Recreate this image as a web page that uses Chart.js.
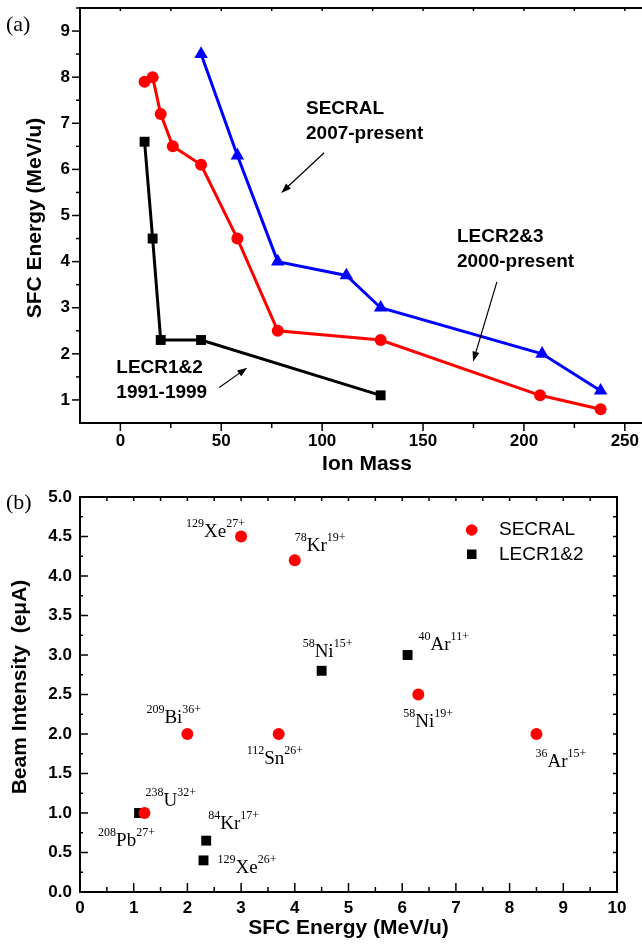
<!DOCTYPE html>
<html>
<head>
<meta charset="utf-8">
<script src="https://cdn.jsdelivr.net/npm/chart.js@4/dist/chart.umd.min.js"></script>
<style>
  html, body { margin: 0; padding: 0; background: #fff; overflow: hidden; }
  #wrap { position: relative; width: 642px; height: 944px; overflow: hidden; }
  #boxA { position: absolute; left: 0; top: 0; width: 660px; height: 470px; }
  #boxB { position: absolute; left: 0; top: 470px; width: 642px; height: 474px; }
</style>
</head>
<body>
<div id="wrap">
  <div id="boxA"><canvas id="graficoEnergia" width="660" height="470"></canvas></div>
  <div id="boxB"><canvas id="graficoCorrente" width="642" height="474"></canvas></div>
</div>
<script>
// (a) energia SFC x massa do ion
const lecr12Mass = [12, 16, 20, 40, 129];
const lecr12Energy = [6.6, 4.5, 2.3, 2.3, 1.1];
const lecr23Mass = [12, 16, 20, 26, 40, 58, 78, 129, 208, 238];
const lecr23Energy = [7.9, 8.0, 7.2, 6.5, 6.1, 4.5, 2.5, 2.3, 1.1, 0.8];
const secralMass = [40, 58, 78, 112, 129, 209, 238];
const secralEnergy = [8.5, 6.3, 4.0, 3.7, 3.0, 2.0, 1.2];

const massTicks = [0, 50, 100, 150, 200, 250];
const energyTicks = [1, 2, 3, 4, 5, 6, 7, 8, 9];

// (b) corrente do feixe x energia SFC
const secralBeamEnergy = [3.0, 4.0, 6.3, 8.5, 2.0, 3.7, 1.2];
const secralBeamCurrent = [4.5, 4.2, 2.5, 2.0, 2.0, 2.0, 1.0];
const secralBeamIons = [
  ["129", "Xe", "27+"], ["78", "Kr", "19+"], ["58", "Ni", "19+"], ["36", "Ar", "15+"],
  ["209", "Bi", "36+"], ["112", "Sn", "26+"], ["238", "U", "32+"]
];
const lecrBeamEnergy = [1.1, 2.35, 2.3, 4.5, 6.1];
const lecrBeamCurrent = [1.0, 0.65, 0.4, 2.8, 3.0];
const lecrBeamIons = [
  ["208", "Pb", "27+"], ["84", "Kr", "17+"], ["129", "Xe", "26+"], ["58", "Ni", "15+"], ["40", "Ar", "11+"]
];

const sfcTicks = ["0", "1", "2", "3", "4", "5", "6", "7", "8", "9", "10"];
const currentTicks = ["0.0", "0.5", "1.0", "1.5", "2.0", "2.5", "3.0", "3.5", "4.0", "4.5", "5.0"];

// deslocamento (px) de cada rotulo em relacao ao seu ponto
const secralLabelShift = [[-55, 0], [0, -9], [-15, 32], [-1, 33], [-41, -11], [-32, 30], [1, -7]];
const lecrLabelShift = [[-41, 33], [2, -12], [14, 13], [-19, -14], [11, -5]];

const SANS = '"Liberation Sans", Arial, sans-serif';
const SERIF = '"Liberation Serif", "Times New Roman", serif';

function pares(xs, ys) {
  return xs.map((x, i) => ({ x: x, y: ys[i] }));
}

function linha(ctx, x1, y1, x2, y2) {
  ctx.beginPath();
  ctx.moveTo(x1, y1);
  ctx.lineTo(x2, y2);
  ctx.stroke();
}

function passos(min, max, step) {
  const out = [];
  for (let v = min; v <= max + 1e-9; v += step) out.push(Math.round(v * 1000) / 1000);
  return out;
}

function seta(ctx, x1, y1, x2, y2) {
  const ang = Math.atan2(y2 - y1, x2 - x1);
  ctx.lineWidth = 1.2;
  linha(ctx, x1, y1, x2 - Math.cos(ang) * 6, y2 - Math.sin(ang) * 6);
  ctx.beginPath();
  ctx.moveTo(x2, y2);
  ctx.lineTo(x2 - Math.cos(ang) * 10 + Math.sin(ang) * 3.5, y2 - Math.sin(ang) * 10 - Math.cos(ang) * 3.5);
  ctx.lineTo(x2 - Math.cos(ang) * 10 - Math.sin(ang) * 3.5, y2 - Math.sin(ang) * 10 + Math.cos(ang) * 3.5);
  ctx.closePath();
  ctx.fill();
}

// eixos, marcas e textos do grafico (a)
const molduraEnergia = {
  id: "molduraEnergia",
  afterDraw(chart) {
    const ctx = chart.ctx;
    const { left, right, top, bottom } = chart.chartArea;
    const sx = chart.scales.x, sy = chart.scales.y;
    ctx.save();
    ctx.strokeStyle = "#000";
    ctx.fillStyle = "#000";
    ctx.lineWidth = 2;
    ctx.lineCap = "square";
    linha(ctx, left, top, right, top);
    linha(ctx, left, top, left, bottom);
    linha(ctx, left, bottom, right, bottom);

    ctx.lineCap = "butt";
    ctx.lineWidth = 1.5;
    passos(0, 250, 25).forEach((v) => {
      const px = sx.getPixelForValue(v);
      const major = v % 50 === 0;
      linha(ctx, px, bottom, px, bottom + (major ? 8 : 5));
      linha(ctx, px, top, px, top + 3);
    });
    passos(1, 9.5, 0.5).forEach((v) => {
      const py = sy.getPixelForValue(v);
      const major = Number.isInteger(v);
      linha(ctx, left - (major ? 8 : 4), py, left, py);
    });

    ctx.font = "bold 17px " + SANS;
    ctx.textAlign = "center";
    ctx.textBaseline = "middle";
    massTicks.forEach((v) => ctx.fillText(String(v), sx.getPixelForValue(v), bottom + 18));
    ctx.textAlign = "right";
    energyTicks.forEach((v) => ctx.fillText(String(v), left - 10, sy.getPixelForValue(v)));

    ctx.font = "bold 21px " + SANS;
    ctx.textAlign = "center";
    ctx.fillText("Ion Mass", 367, bottom + 41);
    ctx.save();
    ctx.translate(35, 218);
    ctx.rotate(-Math.PI / 2);
    ctx.fillText("SFC Energy (MeV/u)", 0, 0);
    ctx.restore();

    ctx.font = "22px " + SERIF;
    ctx.textAlign = "left";
    ctx.fillText("(a)", 6, 25);

    // rotulos das fontes ECR com setas
    const notas = [
      { t: ["SECRAL", "2007-present"], x: 92, y: 7.31, de: [101, 6.36], ate: [79.7, 5.49] },
      { t: ["LECR2&3", "2000-present"], x: 166.8, y: 4.53, de: [186.6, 3.56], ate: [174.8, 1.83] },
      { t: ["LECR1&2", "1991-1999"], x: -2, y: 1.70, de: [49, 1.27], ate: [62.9, 1.70] }
    ];
    ctx.font = "bold 19px " + SANS;
    notas.forEach((n) => {
      const px = sx.getPixelForValue(n.x), py = sy.getPixelForValue(n.y);
      n.t.forEach((s, i) => ctx.fillText(s, px, py + i * 25));
      seta(ctx, sx.getPixelForValue(n.de[0]), sy.getPixelForValue(n.de[1]),
        sx.getPixelForValue(n.ate[0]), sy.getPixelForValue(n.ate[1]));
    });
    ctx.restore();
  }
};

function rotuloIon(ctx, x, y, ion) {
  ctx.textAlign = "left";
  ctx.textBaseline = "alphabetic";
  ctx.font = "12px " + SERIF;
  ctx.fillText(ion[0], x, y - 10);
  let cx = x + ctx.measureText(ion[0]).width;
  ctx.font = "19px " + SERIF;
  ctx.fillText(ion[1], cx, y);
  cx += ctx.measureText(ion[1]).width;
  ctx.font = "12px " + SERIF;
  ctx.fillText(ion[2], cx, y - 10);
}

// eixos, marcas, legenda e rotulos do grafico (b)
const molduraCorrente = {
  id: "molduraCorrente",
  afterDraw(chart) {
    const ctx = chart.ctx;
    const { left, right, top, bottom } = chart.chartArea;
    const sx = chart.scales.x, sy = chart.scales.y;
    ctx.save();
    ctx.strokeStyle = "#000";
    ctx.fillStyle = "#000";
    ctx.lineWidth = 2;
    ctx.strokeRect(left, top, right - left, bottom - top);

    ctx.lineWidth = 1.5;
    passos(0.5, 9.5, 0.5).forEach((v) => {
      const px = sx.getPixelForValue(v);
      const major = Number.isInteger(v);
      linha(ctx, px, bottom, px, bottom - (major ? 9 : 5));
      linha(ctx, px, top, px, top + 4);
    });
    passos(0.25, 4.75, 0.25).forEach((v) => {
      const py = sy.getPixelForValue(v);
      const major = Math.abs(v * 2 - Math.round(v * 2)) < 1e-6;
      linha(ctx, left, py, left + (major ? 8 : 3), py);
      linha(ctx, right, py, right - 4, py);
    });

    ctx.font = "bold 17px " + SANS;
    ctx.textAlign = "center";
    ctx.textBaseline = "middle";
    sfcTicks.forEach((s) => ctx.fillText(s, sx.getPixelForValue(Number(s)), bottom + 16));
    ctx.textAlign = "right";
    currentTicks.forEach((s) => ctx.fillText(s, left - 8, sy.getPixelForValue(Number(s))));

    ctx.font = "bold 21px " + SANS;
    ctx.textAlign = "center";
    ctx.fillText("SFC Energy (MeV/u)", (left + right) / 2, bottom + 36);
    ctx.save();
    ctx.translate(20, 217);
    ctx.rotate(-Math.PI / 2);
    ctx.fillText("Beam Intensity  (e\u03bcA)", 0, 0);
    ctx.restore();

    ctx.font = "22px " + SERIF;
    ctx.textAlign = "left";
    ctx.fillText("(b)", 6, 33);

    const meta0 = chart.getDatasetMeta(0), meta1 = chart.getDatasetMeta(1);
    meta0.data.forEach((p, i) => rotuloIon(ctx, p.x + secralLabelShift[i][0], p.y + secralLabelShift[i][1], secralBeamIons[i]));
    meta1.data.forEach((p, i) => rotuloIon(ctx, p.x + lecrLabelShift[i][0], p.y + lecrLabelShift[i][1], lecrBeamIons[i]));

    // legenda
    ctx.fillStyle = "#ff0000";
    ctx.beginPath();
    ctx.arc(471.7, 60, 5.8, 0, Math.PI * 2);
    ctx.fill();
    ctx.fillStyle = "#000";
    ctx.fillRect(467, 79.5, 9.5, 9.5);
    ctx.font = "19px " + SANS;
    ctx.textBaseline = "middle";
    ctx.fillText("SECRAL", 499, 60);
    ctx.fillText("LECR1&2", 499, 84.3);
    ctx.restore();
  }
};

Chart.defaults.font.family = SANS;

const graficoEnergia = new Chart(document.getElementById("graficoEnergia").getContext("2d"), {
  type: "scatter",
  data: {
    datasets: [
      {
        label: "LECR1&2",
        data: pares(lecr12Mass, lecr12Energy),
        showLine: true,
        borderColor: "#000",
        backgroundColor: "#000",
        borderWidth: 3,
        pointStyle: "rect",
        pointRadius: 7,
        pointBorderWidth: 0
      },
      {
        label: "LECR2&3",
        data: pares(lecr23Mass, lecr23Energy),
        showLine: true,
        borderColor: "#ff0000",
        backgroundColor: "#ff0000",
        borderWidth: 3,
        pointStyle: "circle",
        pointRadius: 6,
        pointBorderWidth: 0
      },
      {
        label: "SECRAL",
        data: pares(secralMass, secralEnergy),
        showLine: true,
        borderColor: "#0000ff",
        backgroundColor: "#0000ff",
        borderWidth: 3,
        pointStyle: "triangle",
        pointRadius: 7.8,
        pointBorderWidth: 0
      }
    ]
  },
  options: {
    responsive: false,
    animation: false,
    devicePixelRatio: 1,
    layout: { padding: { left: 80, top: 8, right: 15, bottom: 47 } },
    plugins: { legend: { display: false }, tooltip: { enabled: false } },
    scales: {
      x: { type: "linear", min: -20, max: 260, display: false },
      y: { type: "linear", min: 0.5, max: 9.5, display: false }
    }
  },
  plugins: [molduraEnergia]
});

const graficoCorrente = new Chart(document.getElementById("graficoCorrente").getContext("2d"), {
  type: "scatter",
  data: {
    datasets: [
      {
        label: "SECRAL",
        data: pares(secralBeamEnergy, secralBeamCurrent),
        backgroundColor: "#ff0000",
        pointStyle: "circle",
        pointRadius: 6,
        pointBorderWidth: 0
      },
      {
        label: "LECR1&2",
        data: pares(lecrBeamEnergy, lecrBeamCurrent),
        backgroundColor: "#000",
        pointStyle: "rect",
        pointRadius: 7,
        pointBorderWidth: 0
      }
    ]
  },
  options: {
    responsive: false,
    animation: false,
    devicePixelRatio: 1,
    layout: { padding: { left: 80, top: 27, right: 25, bottom: 52 } },
    plugins: { legend: { display: false }, tooltip: { enabled: false } },
    scales: {
      x: { type: "linear", min: 0, max: 10, display: false },
      y: { type: "linear", min: 0, max: 5, display: false }
    }
  },
  plugins: [molduraCorrente]
});
</script>
</body>
</html>
